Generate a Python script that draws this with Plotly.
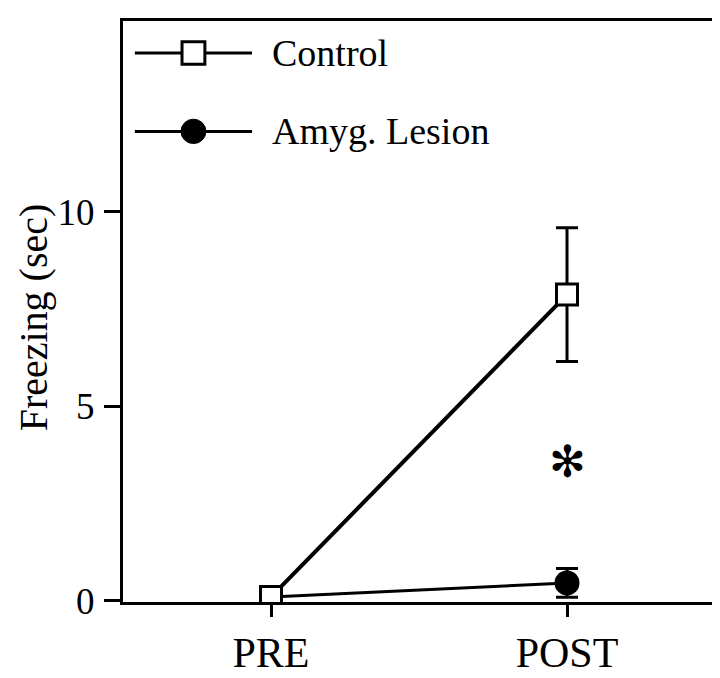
import plotly.graph_objects as go

phases = ["PRE", "POST"]
control_mean = [0.1, 7.87]
control_sem = [0.0, 1.72]
lesion_mean = [0.1, 0.46]
lesion_sem = [0.0, 0.37]
y_ticks = [0, 5, 10]
star_y = 3.58

serif = "Liberation Serif, Times New Roman, serif"
xs = list(range(len(phases)))

fig = go.Figure()

# lesion line + error bars first, the control square sits on top at PRE
fig.add_trace(go.Scatter(
    x=xs, y=lesion_mean,
    mode="lines",
    line=dict(color="black", width=3),
    error_y=dict(type="data", array=lesion_sem, color="black", thickness=3, width=11),
    showlegend=False,
))
# the PRE circle is hidden behind the square in the original, only POST shows
fig.add_trace(go.Scatter(
    x=xs[1:], y=lesion_mean[1:],
    mode="markers",
    marker=dict(symbol="circle", size=25, color="black", opacity=1,
                line=dict(color="black", width=0)),
    showlegend=False,
))
fig.add_trace(go.Scatter(
    x=xs, y=control_mean,
    mode="lines+markers",
    line=dict(color="black", width=4),
    marker=dict(symbol="square", size=21, color="white", opacity=1,
                line=dict(color="black", width=3)),
    error_y=dict(type="data", array=control_sem, color="black", thickness=3, width=11),
    showlegend=False,
))

# significance star
fig.add_annotation(x=1, y=star_y, text="✻", showarrow=False,
                   font=dict(family="DejaVu Sans", size=44, color="black"))

# hand-drawn legend in the top-left corner
leg = [("Control", 0.945, "square"), ("Amyg. Lesion", 0.810, "circle")]
for label, ly, kind in leg:
    fig.add_shape(type="line", xref="paper", yref="paper",
                  x0=0.020, x1=0.218, y0=ly, y1=ly,
                  line=dict(color="black", width=3))
    hx, hy = 0.0193, 0.0193
    if kind == "square":
        fig.add_shape(type="rect", xref="paper", yref="paper",
                      x0=0.119 - hx, x1=0.119 + hx, y0=ly - hy, y1=ly + hy,
                      fillcolor="white", line=dict(color="black", width=3))
    else:
        r = 0.021
        fig.add_shape(type="circle", xref="paper", yref="paper",
                      x0=0.119 - r, x1=0.119 + r, y0=ly - r, y1=ly + r,
                      fillcolor="black", line=dict(color="black", width=1))
    fig.add_annotation(xref="paper", yref="paper", x=0.249, y=ly, text=label,
                       showarrow=False, xanchor="left", yanchor="middle",
                       font=dict(family=serif, size=38, color="black"))

# y title
fig.add_annotation(xref="paper", yref="paper", x=-0.152, y=0.49, text="Freezing (sec)",
                   textangle=-90, showarrow=False, xanchor="center", yanchor="middle",
                   font=dict(family=serif, size=40, color="black"))

fig.update_xaxes(
    range=[-0.5, 1.5], tickvals=xs, ticktext=phases,
    showline=True, linecolor="black", linewidth=3, mirror=True,
    ticks="outside", ticklen=12, tickwidth=3, tickcolor="black",
    showgrid=False, zeroline=False,
    tickfont=dict(family=serif, size=42, color="black"),
)
fig.update_yaxes(
    range=[-0.03, 14.9], tickvals=y_ticks,
    showline=True, linecolor="black", linewidth=3, mirror=True,
    ticks="outside", ticklen=16, tickwidth=3, tickcolor="black",
    showgrid=False, zeroline=False, ticklabelstandoff=2,
    tickfont=dict(family=serif, size=37, color="black"),
)
fig.update_layout(
    width=720, height=678,
    margin=dict(l=115, r=10, t=10, b=72),
    plot_bgcolor="white", paper_bgcolor="white",
)
fig.write_html("out.html")
